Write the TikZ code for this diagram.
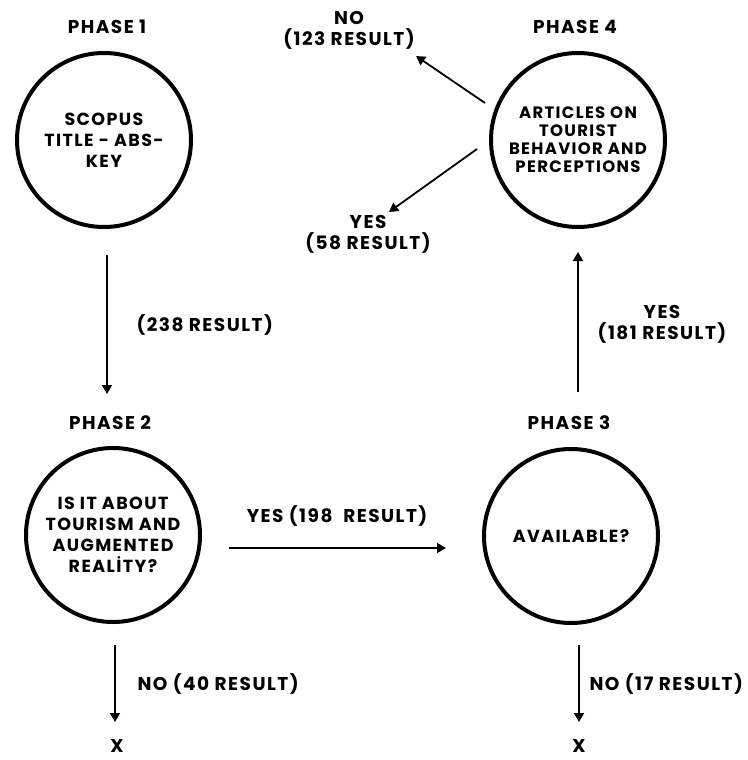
\documentclass[tikz,border=0pt]{standalone}
\usepackage{fontspec}
\setmainfont{Poppins}[LetterSpace=8]
\usetikzlibrary{arrows.meta}

\begin{document}
\begin{tikzpicture}[x=1pt,y=-1pt,
  phase/.style={draw, circle, line width=4pt, minimum size=174pt, inner sep=0pt,
    align=center, font=\fontsize{17.5}{21}\selectfont\bfseries},
  phasesmall/.style={phase, font=\fontsize{16.5}{18}\selectfont\bfseries},
  heading/.style={font=\fontsize{18.5}{21}\selectfont\bfseries},
  lbl/.style={font=\fontsize{18.5}{21}\selectfont\bfseries, align=center},
  arr/.style={line width=1.8pt, -{Triangle[length=9pt,width=10pt]}}]
  \useasboundingbox (0,0) rectangle (747,760);

  % phase circles
  \node[phase] (c1) at (104,140) {SCOPUS\\TITLE - ABS-\\KEY};
  \node[phase] (c2) at (113,535) {IS IT ABOUT\\TOURISM AND\\AUGMENTED\\REALİTY?};
  \node[phase] (c3) at (571,536) {AVAILABLE?};
  \node[phasesmall] (c4) at (578,140) {ARTICLES ON\\TOURIST\\BEHAVIOR AND\\PERCEPTIONS};

  % headings
  \node[heading] (h1) at (107,27) {PHASE 1};
  \node[heading] (h2) at (110,423) {PHASE 2};
  \node[heading] (h3) at (569,423) {PHASE 3};
  \node[heading] (h4) at (575,27) {PHASE 4};

  % arrow end points
  \coordinate (a1s) at (107,255);
  \coordinate (a1e) at (107,394);
  \coordinate (a2s) at (229,548);
  \coordinate (a2e) at (446,548);
  \coordinate (a3s) at (578,392);
  \coordinate (a3e) at (578,252);
  \coordinate (a4s) at (485,103);
  \coordinate (a4e) at (416,56);
  \coordinate (a5s) at (477,149);
  \coordinate (a5e) at (389,212);
  \coordinate (a6s) at (115,645);
  \coordinate (a6e) at (115,722);
  \coordinate (a7s) at (579,645);
  \coordinate (a7e) at (579,722);

  \draw[arr] (a1s) -- (a1e);
  \draw[arr] (a2s) -- (a2e);
  \draw[arr] (a3s) -- (a3e);
  \draw[arr] (a4s) -- (a4e);
  \draw[arr] (a5s) -- (a5e);
  \draw[arr] (a6s) -- (a6e);
  \draw[arr] (a7s) -- (a7e);

  % labels
  \node[lbl, anchor=west] (l1) at (133,325) {(238 RESULT)};
  \node[lbl] (l2) at (337,516) {YES (198~~RESULT)};
  \node[lbl] (l3) at (662,324) {YES\\(181 RESULT)};
  \node[lbl] (l4) at (349,30) {NO\\(123 RESULT)};
  \node[lbl] (l5) at (368,234) {YES\\(58 RESULT)};
  \node[lbl, anchor=west] (l6) at (134,684) {NO (40 RESULT)};
  \node[lbl, anchor=west] (l7) at (586,684) {NO (17 RESULT)};
  \node[lbl] (x1) at (117,746) {X};
  \node[lbl] (x2) at (579,746) {X};
\end{tikzpicture}
\end{document}
